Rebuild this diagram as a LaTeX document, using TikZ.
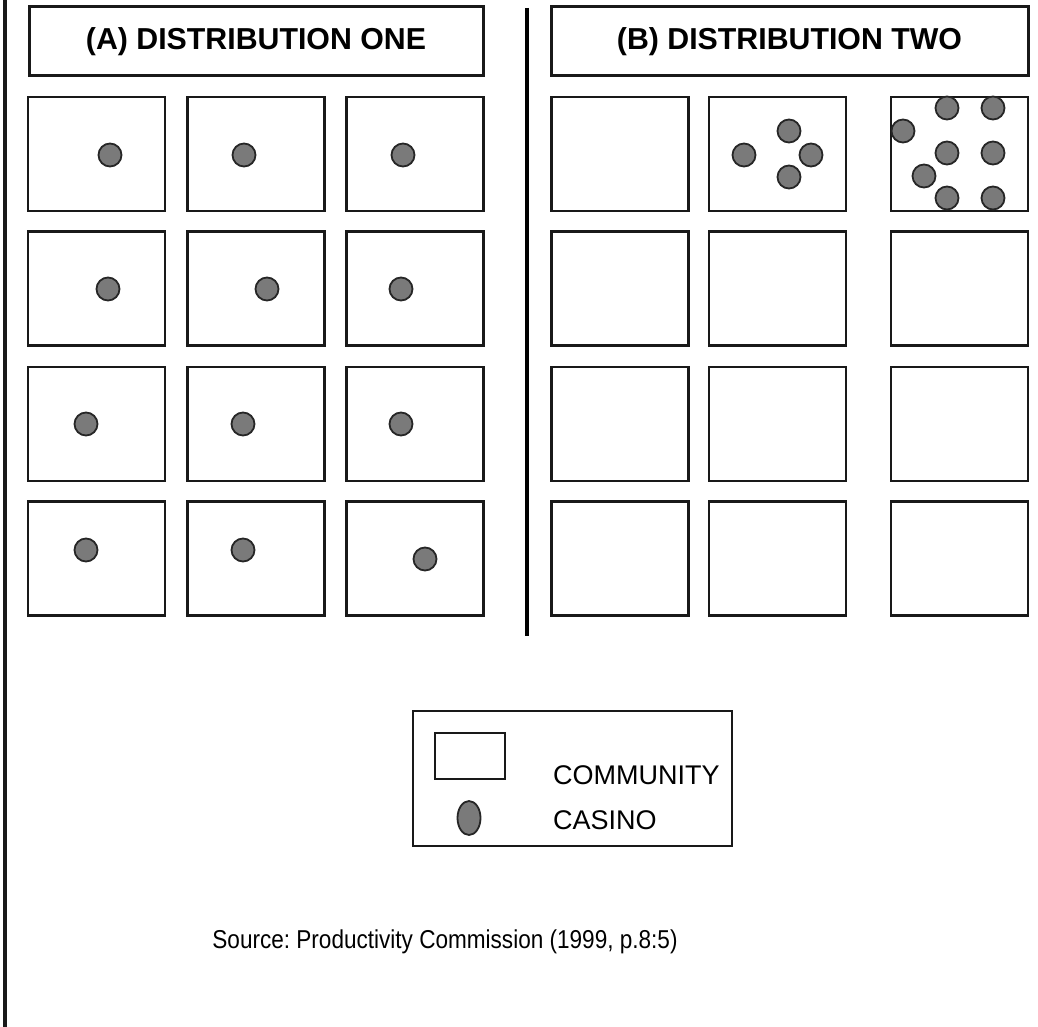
\documentclass[tikz,border=0pt]{standalone}
\usepackage{fontspec}
\setmainfont{Liberation Sans}
\usetikzlibrary{shapes.geometric}
\frenchspacing
\tikzset{
  community/.style={draw=black!90, line width=2.2pt, fill=white, minimum width=137pt, minimum height=114pt, inner sep=0pt},
  casino/.style={circle, draw=black!85, line width=1.8pt, fill=black!52, minimum size=23pt, inner sep=0pt},
  header/.style={draw=black!90, line width=3pt, inner sep=0pt, font=\fontsize{30.3}{33}\selectfont\bfseries},
  legendtext/.style={anchor=west, inner sep=0pt, font=\fontsize{27}{30}\selectfont}
}
\begin{document}
\begin{tikzpicture}[x=1pt, y=-1pt]
\useasboundingbox (0,0) rectangle (1038,1027);
\fill[white] (0,0) rectangle (1038,1027);

% outer left rule and central divider
\draw[line width=3.2pt, black!90] (5,0) -- (5,1027);
\draw[line width=4pt, black] (527,8) -- (527,636);

% panel headers
\node[header, minimum width=454pt, minimum height=69pt] (hA) at (256,41.5) {(A) DISTRIBUTION ONE};
\node[header, minimum width=477pt, minimum height=69pt] (hB) at (789.5,41.5) {(B) DISTRIBUTION TWO};

% community grids: column centres and row centres
\foreach \r/\y in {1/154, 2/288.5, 3/424, 4/558.5} {
  \foreach \c/\x in {1/96.5, 2/256, 3/415} {
    \node[community] (a\r\c) at (\x,\y) {};
  }
  \foreach \c/\x in {1/620, 2/777.5, 3/959.5} {
    \node[community] (b\r\c) at (\x,\y) {};
  }
}

% distribution one: one casino per community
\node[casino] (ca1) at (110,155) {};
\node[casino] (ca2) at (244,155) {};
\node[casino] (ca3) at (403,155) {};
\node[casino] (ca4) at (108,289) {};
\node[casino] (ca5) at (267,289) {};
\node[casino] (ca6) at (401,289) {};
\node[casino] (ca7) at (86,424) {};
\node[casino] (ca8) at (243,424) {};
\node[casino] (ca9) at (401,424) {};
\node[casino] (ca10) at (86,550) {};
\node[casino] (ca11) at (243,550) {};
\node[casino] (ca12) at (425,559) {};

% distribution two: casinos clustered in two communities
\node[casino] (cb1) at (744,155) {};
\node[casino] (cb2) at (789,131) {};
\node[casino] (cb3) at (811,155) {};
\node[casino] (cb4) at (789,177) {};
\node[casino] (cb5) at (903,131) {};
\node[casino] (cb6) at (947,108) {};
\node[casino] (cb7) at (993,108) {};
\node[casino] (cb8) at (947,153) {};
\node[casino] (cb9) at (993,153) {};
\node[casino] (cb10) at (924,176) {};
\node[casino] (cb11) at (947,198) {};
\node[casino] (cb12) at (993,198) {};

% legend
\node[draw=black!90, line width=2.2pt, minimum width=319pt, minimum height=135pt, inner sep=0pt] (legend) at (572.5,778.5) {};
\node[draw=black!90, line width=2pt, minimum width=70pt, minimum height=46pt, inner sep=0pt] (legcom) at (470,756) {};
\node[ellipse, draw=black!85, line width=1.8pt, fill=black!52, minimum width=23pt, minimum height=34pt, inner sep=0pt] (legcas) at (469,818) {};
\node[legendtext] (tcom) at (553,775) {COMMUNITY};
\node[legendtext] (tcas) at (553,820) {CASINO};

% source line
\node[inner sep=0pt, font=\fontsize{23.5}{26}\selectfont] (src) at (445,942) {\scalebox{0.96}[1.1]{Source: Productivity Commission (1999, p.8:5)}};
\end{tikzpicture}
\end{document}
